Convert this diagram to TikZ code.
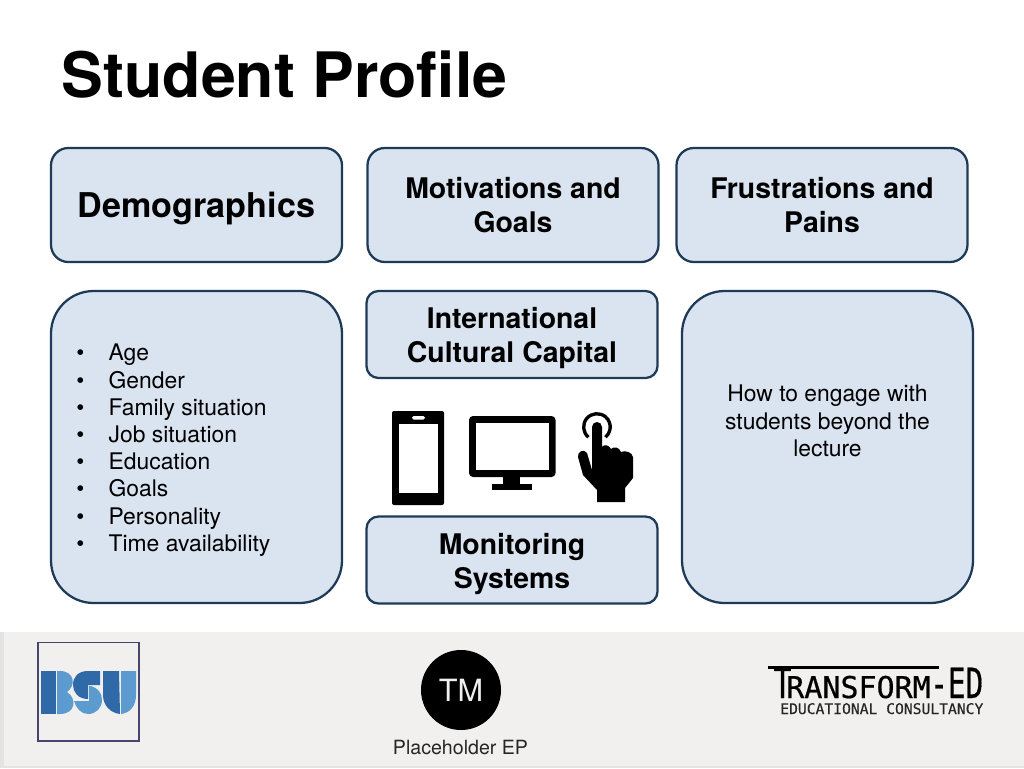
\documentclass[tikz,border=0pt]{standalone}
\usepackage{fontspec}
\setmainfont{TeX Gyre Heros}
\newfontfamily\monof[FakeBold=0.6]{DejaVu Sans Mono}
\newfontfamily\monoc[FakeBold=0.2]{DejaVu Sans Mono}
\definecolor{boxfill}{HTML}{DAE4F1}
\definecolor{boxline}{HTML}{1F3A57}
\definecolor{footbg}{HTML}{F2F0EF}
\definecolor{bsudark}{HTML}{2F69A8}
\definecolor{bsulight}{HTML}{5B9BD0}
\definecolor{bsuframe}{HTML}{45456E}
\tikzset{
  px/.style={x=0.75pt,y=-0.75pt},
  panel/.style={draw=boxline,line width=1.7pt,fill=boxfill,inner sep=0pt},
  headbox/.style={panel,rounded corners=13pt,minimum width=218.25pt,minimum height=85.5pt},
  smallbox/.style={panel,rounded corners=9pt,minimum width=218.25pt,minimum height=65.25pt},
  bigbox/.style={panel,rounded corners=32pt,minimum width=218.25pt,minimum height=234pt},
  headtext/.style={inner sep=0pt,align=center,font=\bfseries\fontsize{21.3}{25.5}\selectfont},
  bodytext/.style={inner sep=0pt,font=\fontsize{17.15}{20.4}\selectfont},
  icon/.style={fill=black,draw=none},
  hole/.style={fill=white,draw=none},
}
\newcommand{\bul}[1]{\makebox[24.3pt][l]{•}#1\\}
\begin{document}
\begin{tikzpicture}[px]
\useasboundingbox (0,0) rectangle (1024,768);
\fill[white] (0,0) rectangle (1024,768);
% footer
\fill[black!11] (0,632) rectangle (1024,768);
\fill[footbg] (4,632) rectangle (1024,766);
% title
\node[anchor=base west,inner sep=0pt,font=\bfseries\fontsize{47}{50}\selectfont] (title) at (61.5,97) {Student Profile};
% boxes
\node[headbox] (demo) at (196.5,205) {};
\node[headbox] (motiv) at (513,205) {};
\node[headbox] (frust) at (822,205) {};
\node[bigbox] (listbox) at (196.5,447) {};
\node[smallbox] (intl) at (512,334.5) {};
\node[smallbox] (monit) at (512,560) {};
\node[bigbox] (engage) at (827.5,447) {};
\node[headtext,font=\bfseries\fontsize{25.6}{30}\selectfont,anchor=base] (demotxt) at (196.5,217) {Demographics};
\node[headtext] (motivtxt) at (513,205.5) {Motivations and\\Goals};
\node[headtext] (frusttxt) at (822,205.5) {Frustrations and\\Pains};
\node[headtext] (intltxt) at (512,338) {International\\Cultural Capital};
\node[headtext] (monittxt) at (512,564) {Monitoring\\Systems};
\node[bodytext,align=center] (engtext) at (827.5,421) {How to engage with\\students beyond the\\lecture};
\node[bodytext,anchor=north west,align=left] (list) at (76,344) {\bul{Age}\bul{Gender}\bul{Family situation}\bul{Job situation}\bul{Education}\bul{Goals}\bul{Personality}\bul{Time availability}};
% phone
\fill[icon,rounded corners=1.5pt] (392,411) rectangle (444,505);
\fill[hole] (398.5,424) rectangle (438,493);
\fill[hole,rounded corners=1.2pt] (412,416) rectangle (425,419.5);
% monitor
\fill[icon,rounded corners=3pt] (469,416) rectangle (555.5,477);
\fill[hole] (475.5,422.5) rectangle (549,470);
\fill[icon] (503,476) rectangle (520,486);
\fill[icon] (492,484) rectangle (532,490);
% hand
\draw[line width=2.5pt,line cap=butt] (588.4,437.2) arc[start angle=130,end angle=410,radius=13.3];
\fill[icon]
 (592,427) arc[start angle=180,end angle=360,radius=5]
 -- (602,447) .. controls (604,444) and (609,445) .. (611,449)
 .. controls (614,446) and (619,447) .. (621,452)
 .. controls (625,450) and (632,452) .. (633,457)
 -- (633,478) -- (625,488) -- (625,502) -- (597,502) -- (597,490)
 -- (583,475) -- (578,457) .. controls (577,452) and (584,448) .. (587,453)
 -- (592,470) -- cycle;
% BSU logo
\draw[draw=bsuframe,line width=1pt] (38,642.5) rectangle (139,741);
\fill[bsudark] (41,671) rectangle (55.5,714);
\fill[bsulight] (57,671) -- (60,671) .. controls (75,671) and (76,686) .. (67,692) .. controls (77,698) and (76,714) .. (60,714) -- (57,714) -- cycle;
\fill[bsudark] (100,671) -- (88,671) .. controls (78,671) and (73,677) .. (73,685) .. controls (73,692) and (78,699) .. (88,699) -- (88,685) -- (100,685) -- cycle;
\fill[bsulight] (74,701) -- (89,701) -- (89,686) -- (91,686) .. controls (98,688) and (102,693) .. (102,700) .. controls (102,708) and (96,714) .. (88,714) .. controls (81,714) and (76,708) .. (74,701) -- cycle;
\fill[bsudark] (103,671) -- (119,671) -- (120,714) .. controls (111,713) and (103,706) .. (103,695) -- cycle;
\fill[bsulight] (121,671) -- (136,671) -- (136,695) .. controls (136,706) and (130,713) .. (121,714) -- cycle;
% TM logo
\node[circle,fill=black,minimum size=60pt,inner sep=0pt,text=footbg,font=\fontsize{23}{25}\selectfont] (tm) at (461,690) {TM};
\node[anchor=base,inner sep=0pt,font=\fontsize{14.7}{16}\selectfont,text=black!85] (ph) at (460.5,754) {Placeholder EP};
% Transform-ED logo
\fill[black] (768,666) rectangle (939,668.5);
\node[anchor=base,inner sep=0pt] (tT) at (782.5,698) {\scalebox{1}[1.4]{\monof\fontsize{22.5}{24}\selectfont T}};
\node[anchor=base west,inner sep=0pt,font=\monof\fontsize{22.5}{24}\selectfont] (tR) at (786,698) {RANSFORM};
\node[anchor=base west,inner sep=0pt] (tE) at (930,698) {\scalebox{1}[1.42]{\monof\fontsize{22}{24}\selectfont -ED}};
\node[anchor=base west,inner sep=0pt,font=\monoc\fontsize{11}{12}\selectfont,text=black!85] (tC) at (780,714) {EDUCATIONAL CONSULTANCY};
\end{tikzpicture}
\end{document}
